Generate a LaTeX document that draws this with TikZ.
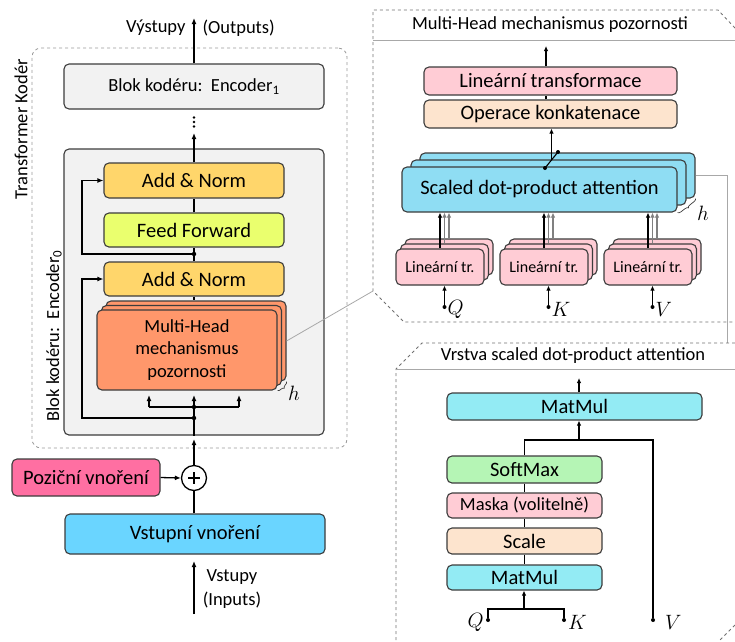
\documentclass[tikz,border=0pt]{standalone}
\usepackage{fontspec}
\setmainfont{Carlito}
\usetikzlibrary{arrows.meta,decorations.pathreplacing,calc}
\definecolor{bordc}{HTML}{3C3C3C}
\definecolor{encg}{HTML}{F2F2F2}
\definecolor{goldc}{HTML}{FFD66B}
\definecolor{ffc}{HTML}{EAFF6E}
\definecolor{mhc}{HTML}{FF976B}
\definecolor{posc}{HTML}{FF6FA2}
\definecolor{inc}{HTML}{6AD5FF}
\definecolor{sdc}{HTML}{8FDDF3}
\definecolor{linc}{HTML}{FFCCD5}
\definecolor{peachc}{HTML}{FDE4CE}
\definecolor{mmc}{HTML}{93EBF4}
\definecolor{smc}{HTML}{B5F5B5}
\definecolor{pangray}{HTML}{707070}
\definecolor{conng}{HTML}{A8A8A8}
\begin{document}
\begin{tikzpicture}[x=1pt,y=-1pt,
  box/.style={draw=bordc,line width=1.1pt,rounded corners=5pt,inner sep=0pt,align=center},
  ar/.style={-{Latex[length=6pt,width=5pt]},line width=1.3pt},
  ars/.style={-{Latex[length=5pt,width=4.5pt]},line width=1.1pt},
  garr/.style={-{Latex[length=5pt,width=4.5pt]},line width=1.1pt,draw=gray,color=gray},
  ln/.style={line width=1.3pt},
  lns/.style={line width=1.1pt},
  jdot/.style={circle,fill=black,inner sep=0pt,minimum size=4.5pt},
  fA/.style={font=\fontsize{20.5}{24}\selectfont},
  fB/.style={font=\fontsize{18.5}{22.5}\selectfont},
  fL/.style={font=\fontsize{16}{19}\selectfont},
  fM/.style={font=\fontsize{20}{22}\selectfont},
  pdash/.style={dashed,draw=pangray,line width=0.8pt},
  sepl/.style={draw=conng,line width=0.8pt},
  conn/.style={draw=conng,line width=0.8pt},
  hbrace/.style={decorate,decoration={brace,amplitude=3pt},line width=0.7pt,draw=bordc}
]
\useasboundingbox (0,0) rectangle (735,641);

% ---------------- left column ----------------
\node[draw=gray!80,dashed,line width=0.8pt,rounded corners=9pt,minimum width=315pt,minimum height=400pt] (outer) at (189.5,248) {};
\node[fB,rotate=90] (tk) at (21,129) {Transformer Kodér};

\node[box,fill=encg,minimum width=260pt,minimum height=45pt,fB] (enc1) at (194,86.5) {Blok kodéru:\ \ Encoder\textsubscript{1}};
\node[box,fill=encg,minimum width=260pt,minimum height=286pt] (enc0) at (194,292) {};
\node[fB,rotate=90] (e0l) at (54,336) {Blok kodéru:\ \ Encoder\textsubscript{0}};

\node[box,fill=goldc,minimum width=180pt,minimum height=35pt,fA] (an2) at (194,180.5) {Add \& Norm};
\node[box,fill=ffc,minimum width=180pt,minimum height=34pt,fA] (ff) at (194,230) {Feed Forward};
\node[box,fill=goldc,minimum width=180pt,minimum height=34pt,fA] (an1) at (194,279) {Add \& Norm};

\node[box,fill=mhc,minimum width=180pt,minimum height=80pt] (mh3) at (196,341) {};
\node[box,fill=mhc,minimum width=180pt,minimum height=80pt] (mh2) at (191.5,345.5) {};
\node[box,fill=mhc,minimum width=180pt,minimum height=80pt,fB] (mh) at (187,350) {Multi-Head\\mechanismus\\pozornosti};
\draw[hbrace] (mh3.south east) -- (mh.south east);
\node[fM] (hl1) at (294,393) {$h$};

% output
\coordinate (outtip) at (194,18);
\draw[ar] (enc1.north) -- (outtip);
\node[fB,anchor=east] (vy) at (189,28) {Výstupy};
\node[fB,anchor=west] (vo) at (199,28) {(Outputs)};
\coordinate (dtip) at (194,133);
\draw[ar] (an2.north) -- (dtip);
\node[jdot,minimum size=2.6pt] (vd1) at (194,117.5) {};
\node[jdot,minimum size=2.6pt] (vd2) at (194,122) {};
\node[jdot,minimum size=2.6pt] (vd3) at (194,126.5) {};

% inner flow
\draw[ln] (ff.north) -- (an2.south);
\coordinate (j2) at (194,254);
\draw[ln] (an1.north) -- (ff.south);
\node[jdot] at (j2) {};
\coordinate (s2) at (82,254);
\draw[ar] (j2) -- (s2) |- (an2.west);
\draw[ln] (an1.south) -- (an1.south |- mh3.north);

\coordinate (j1) at (194,418);
\coordinate (j0) at (194,407);
\coordinate (s1) at (82,418);
\draw[ln] (enc0.south) -- (j0);
\node[jdot] at (j1) {};
\node[jdot] at (j0) {};
\draw[ar] (j1) -- (s1) |- (an1.west);
\coordinate (ja) at (149,407);
\coordinate (jc) at (239,407);
\draw[ln] (ja) -- (jc);
\draw[ar] (ja) -- (149,395);
\draw[ar] (j0) -- (194,395);
\draw[ar] (jc) -- (239,395);

% embeddings
\node[circle,draw=black,line width=1.3pt,minimum size=25pt,inner sep=0pt,fill=white] (plus) at (194,478) {};
\draw[line width=1.3pt] ($(plus.center)+(-6,0)$) -- ($(plus.center)+(6,0)$);
\draw[line width=1.3pt] ($(plus.center)+(0,-6)$) -- ($(plus.center)+(0,6)$);
\coordinate (e0in) at (194,439);
\draw[ar] (plus.north) -- (e0in);
\node[box,fill=posc,minimum width=148pt,minimum height=37pt,fA] (pos) at (86,477.5) {Poziční vnoření};
\draw[ar] (pos.east) -- (plus.west);
\node[box,fill=inc,minimum width=260pt,minimum height=40pt,fA] (inp) at (195,534) {Vstupní vnoření};
\draw[ln] (inp.north -| plus) -- (plus.south);
\coordinate (inbot) at (194,614);
\coordinate (intip) at (194,561);
\draw[ar] (inbot) -- (intip);
\node[fB] (vs) at (232,577) {Vstupy};
\node[fB] (vi) at (232,600) {(Inputs)};

% ---------------- panel 1 ----------------
\draw[pdash] (735,28) -- (718,10) -- (373,10) -- (373,291) -- (404,322) -- (735,322);
\draw[sepl] (373,40) -- (735,40);
\node[fB] (t1) at (550,25) {Multi-Head mechanismus pozornosti};
\coordinate (p1c) at (373,291);
\draw[conn] (mh3.east) -- (p1c);

\node[box,fill=linc,minimum width=253pt,minimum height=28pt,fA] (lt) at (550.5,81) {Lineární transformace};
\node[box,fill=peachc,minimum width=253pt,minimum height=28pt,fA] (ok) at (550.5,114) {Operace konkatenace};
\coordinate (o1) at (546,46);
\draw[ars] (o1 |- lt.north) -- (o1);
\draw[lns] (o1 |- ok.north) -- (o1 |- lt.south);

\node[box,fill=sdc,minimum width=275pt,minimum height=45pt] (sd3) at (557.5,175.5) {};
\node[box,fill=sdc,minimum width=275pt,minimum height=45pt] (sd2) at (548.5,182.5) {};
\node[box,fill=sdc,minimum width=275pt,minimum height=45pt,fA] (sd) at (539.5,189.5) {Scaled dot-product attention};
\draw[hbrace] (sd3.south east) -- (sd.south east);
\node[fM] (hl2) at (703,213) {$h$};
\coordinate (c1) at (545,168);
\coordinate (c2) at (558,152);
\draw[lns] (c1) -- (c2);
\node[jdot,minimum size=4pt] at (c1) {};
\node[jdot,minimum size=4pt] at (c2) {};
\coordinate (cm) at (551.5,160);
\draw[ars] (cm) -- (cm |- ok.south);
\coordinate (p2c) at (727,343);
\draw[conn] (sd3.east) -| (p2c);

% linear stacks
\foreach \nm/\cx/\lab in {q/440/Q,k/544/K,v/648/V}{
  \node[box,fill=linc,minimum width=88pt,minimum height=36pt] (\nm3) at (\cx+9,257) {};
  \node[box,fill=linc,minimum width=88pt,minimum height=36pt] (\nm2) at (\cx+4.5,262) {};
  \node[box,fill=linc,minimum width=88pt,minimum height=36pt,fL] (\nm1) at (\cx,267) {Lineární tr.};
  \draw[garr] (\nm3.north) -- (\nm3.north |- sd.south);
  \draw[garr] (\nm2.north) -- (\nm2.north |- sd.south);
  \draw[ars] (\nm1.north) -- (\nm1.north |- sd.south);
  \node[jdot,minimum size=4pt] (\nm d) at (\cx+4.5,307) {};
  \draw[ars] (\nm d) -- (\nm d |- \nm1.south);
  \node[fM,anchor=west,inner sep=1pt] (\nm l) at (\cx+6.5,309) {$\lab$};
}

% ---------------- panel 2 ----------------
\draw[pdash] (735,343) -- (422,343) -- (396,369) -- (396,641);
\draw[pdash] (735,625) -- (719,641);
\draw[sepl] (396,369) -- (735,369);
\node[fB] (t2) at (573,356) {Vrstva scaled dot-product attention};

\node[box,fill=mmc,minimum width=255pt,minimum height=27pt,fA] (mm2) at (574.5,406.5) {MatMul};
\node[box,fill=smc,minimum width=155pt,minimum height=27pt,fA] (sm) at (524.5,469.5) {SoftMax};
\node[box,fill=linc,minimum width=155pt,minimum height=25pt,fB] (mk) at (524.5,505.5) {Maska (volitelně)};
\node[box,fill=peachc,minimum width=155pt,minimum height=26pt,fA] (sc) at (524.5,541) {Scale};
\node[box,fill=mmc,minimum width=155pt,minimum height=25pt,fA] (mm1) at (524.5,577.5) {MatMul};
\draw[lns] (sm.south) -- (mk.north);
\draw[lns] (mk.south) -- (sc.north);
\draw[lns] (sc.south) -- (mm1.north);
\coordinate (o2) at (579,378);
\draw[ars] (o2 |- mm2.north) -- (o2);
\node[jdot,minimum size=4pt] (qd2) at (488,620) {};
\node[jdot,minimum size=4pt] (kd2) at (564,620) {};
\node[jdot,minimum size=4pt] (vd2b) at (653,620) {};
\coordinate (jt) at (579,440);
\draw[lns] (sm.north) |- (vd2b |- jt) -- (vd2b);
\draw[ars] (jt) -- (jt |- mm2.south);
\coordinate (jb) at (524,609);
\draw[lns] (qd2) |- (jb) -| (kd2);
\draw[ars] (jb) -- (jb |- mm1.south);
\node[fM,anchor=east,inner sep=1pt] (ql2) at (485,622) {$Q$};
\node[fM,anchor=west,inner sep=1pt] (kl2) at (567,622) {$K$};
\node[fM,anchor=west,inner sep=1pt] (vl2) at (664,622) {$V$};
\end{tikzpicture}
\end{document}
